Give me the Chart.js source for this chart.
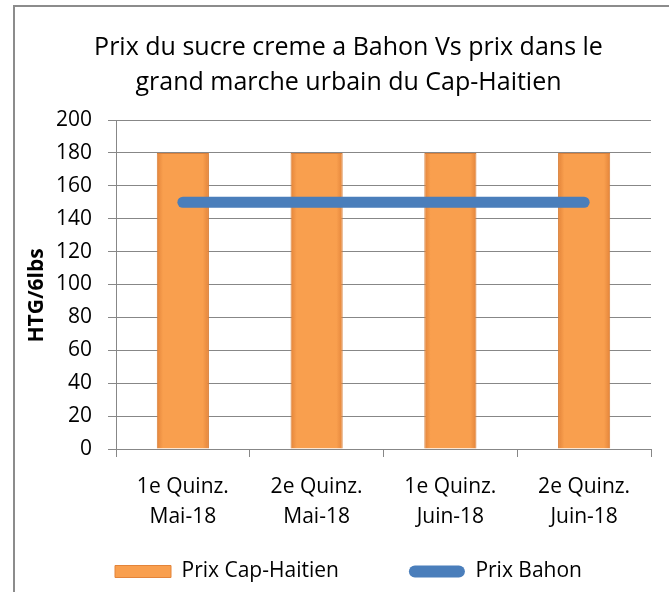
<!DOCTYPE html>
<html>
<head>
<meta charset="utf-8">
<script src="https://cdn.jsdelivr.net/npm/chart.js@4.4.1/dist/chart.umd.min.js"></script>
<style>
  html, body { margin: 0; padding: 0; background: #fff; }
  #wrap { position: relative; width: 669px; height: 592px; overflow: hidden; }
  #frame { position: absolute; left: 13px; top: 5px; width: 720px; height: 700px;
           border-top: 2px solid #8c8c8c; border-left: 2px solid #8c8c8c; }
  canvas { position: absolute; left: 0; top: 0; }
</style>
</head>
<body>
<div id="wrap">
  <div id="frame"></div>
  <canvas id="chart" width="669" height="592"></canvas>
</div>
<script>
const periods = [
  ['1e Quinz.', 'Mai-18'],
  ['2e Quinz.', 'Mai-18'],
  ['1e Quinz.', 'Juin-18'],
  ['2e Quinz.', 'Juin-18']
];
const prixCapHaitien = [180, 180, 180, 180];
const prixBahon = [150, 150, 150, 150];
const titleLines = ['Prix du sucre creme a Bahon Vs prix dans le', 'grand marche urbain du Cap-Haitien'];

const FONT = '"Open Sans", Lato, sans-serif';
const ORANGE = '#f99f4e';
const ORANGE_EDGE = '#e3843a';
const BLUE = '#4a7ebb';
const GRID = '#878787';
const BAR_PCT = 0.78, CAT_PCT = 0.5;

Chart.defaults.font.family = FONT;
Chart.defaults.color = '#000';

// horizontal shading across each bar, like the bevelled Excel bars
function barFill(ctx) {
  const chart = ctx.chart;
  const xs = chart.scales.x;
  if (!chart.chartArea || !xs || ctx.dataIndex === undefined) return ORANGE;
  const cx = xs.getPixelForValue(ctx.dataIndex);
  const half = xs.width / periods.length * BAR_PCT * CAT_PCT / 2;
  if (!isFinite(cx) || !isFinite(half)) return ORANGE;
  const g = chart.ctx.createLinearGradient(cx - half, 0, cx + half, 0);
  g.addColorStop(0, ORANGE_EDGE);
  g.addColorStop(0.12, ORANGE);
  g.addColorStop(0.88, ORANGE);
  g.addColorStop(1, ORANGE_EDGE);
  return g;
}

new Chart(document.getElementById('chart'), {
  data: {
    labels: periods,
    datasets: [
      {
        type: 'bar',
        label: 'Prix Cap-Haitien',
        data: prixCapHaitien,
        backgroundColor: barFill,
        borderColor: '#d9803a',
        borderWidth: 1,
        barPercentage: BAR_PCT,
        categoryPercentage: CAT_PCT,
        order: 2
      },
      {
        type: 'line',
        label: 'Prix Bahon',
        data: prixBahon,
        borderColor: BLUE,
        backgroundColor: BLUE,
        borderWidth: 11,
        borderCapStyle: 'round',
        pointRadius: 0,
        tension: 0,
        order: 1
      }
    ]
  },
  options: {
    responsive: false,
    animation: false,
    layout: { padding: { left: 46, right: 18, top: 30, bottom: 0 } },
    plugins: {
      title: {
        display: true,
        text: titleLines,
        font: { size: 25, weight: 'normal', lineHeight: 1.4 },
        padding: { top: 0.5, bottom: 19.5 }
      },
      legend: {
        position: 'bottom',
        labels: {
          boxWidth: 56,
          boxHeight: 12,
          padding: 10,
          font: { size: 21 },
          sort: (a, b) => a.datasetIndex - b.datasetIndex,
          generateLabels(chart) {
            const items = Chart.defaults.plugins.legend.labels.generateLabels(chart);
            items.forEach(it => {
              if (it.datasetIndex === 1) {
                it.lineWidth = 0;
                it.borderRadius = 6;
                it.fillStyle = BLUE;
              } else {
                it.text = it.text + '           ';
                it.fillStyle = ORANGE;
                it.strokeStyle = ORANGE_EDGE;
                it.lineWidth = 1;
              }
            });
            return items;
          }
        }
      },
      tooltip: { enabled: false }
    },
    scales: {
      x: {
        afterFit(scale) { scale.height = 102; },
        grid: { drawOnChartArea: false, color: GRID, tickLength: 8 },
        border: { color: GRID },
        ticks: { font: { size: 21, lineHeight: 1.43 }, padding: 15, maxRotation: 0 }
      },
      y: {
        min: 0,
        max: 200,
        afterFit(scale) { scale.width = 70; },
        grid: { color: GRID, tickLength: 8 },
        border: { color: GRID },
        ticks: { stepSize: 20, font: { size: 21 }, padding: 16 },
        title: {
          display: true,
          text: 'HTG/6lbs    ',
          padding: { top: -22, bottom: 4 },
          font: { size: 21, weight: 'bold', lineHeight: 1.2 }
        }
      }
    }
  }
});
</script>
</body>
</html>
